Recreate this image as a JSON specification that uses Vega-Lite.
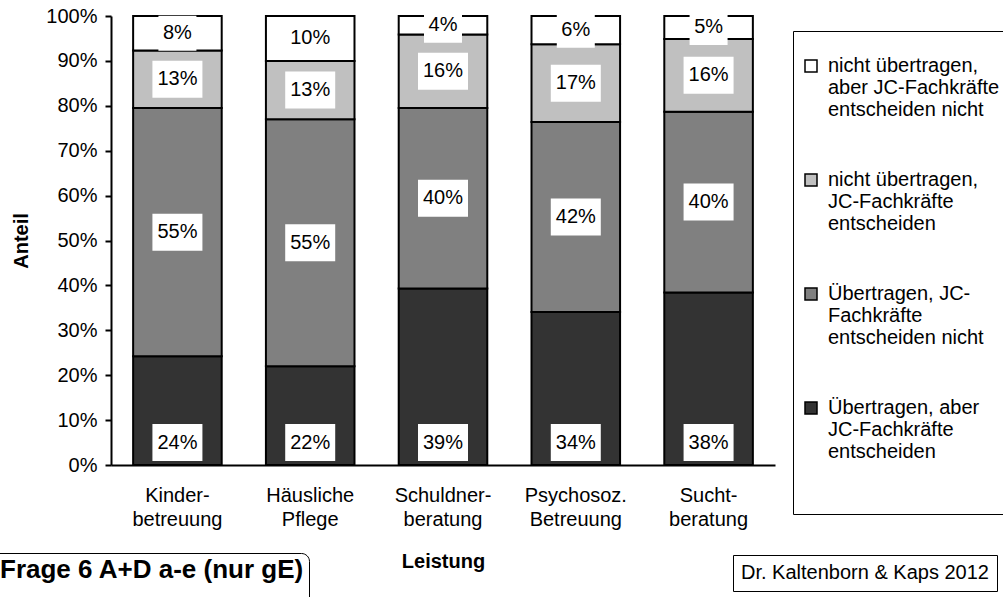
{
  "$schema": "https://vega.github.io/schema/vega-lite/v6.json",
  "width": 664,
  "height": 449,
  "autosize": "none",
  "padding": {"left": 111, "top": 16, "right": 228, "bottom": 132},
  "background": "white",
  "data": {
    "values": [
      {"Leistung": "Kinder-|betreuung", "Kategorie": "Übertragen, aber|JC-Fachkräfte|entscheiden", "rank": 1, "value": 24.2},
      {"Leistung": "Kinder-|betreuung", "Kategorie": "Übertragen, JC-|Fachkräfte|entscheiden nicht", "rank": 2, "value": 55.3},
      {"Leistung": "Kinder-|betreuung", "Kategorie": "nicht übertragen,|JC-Fachkräfte|entscheiden", "rank": 3, "value": 12.8},
      {"Leistung": "Kinder-|betreuung", "Kategorie": "nicht übertragen,|aber JC-Fachkräfte|entscheiden nicht", "rank": 4, "value": 7.7},
      {"Leistung": "Häusliche|Pflege", "Kategorie": "Übertragen, aber|JC-Fachkräfte|entscheiden", "rank": 1, "value": 22.0},
      {"Leistung": "Häusliche|Pflege", "Kategorie": "Übertragen, JC-|Fachkräfte|entscheiden nicht", "rank": 2, "value": 55.0},
      {"Leistung": "Häusliche|Pflege", "Kategorie": "nicht übertragen,|JC-Fachkräfte|entscheiden", "rank": 3, "value": 13.0},
      {"Leistung": "Häusliche|Pflege", "Kategorie": "nicht übertragen,|aber JC-Fachkräfte|entscheiden nicht", "rank": 4, "value": 10.0},
      {"Leistung": "Schuldner-|beratung", "Kategorie": "Übertragen, aber|JC-Fachkräfte|entscheiden", "rank": 1, "value": 39.3},
      {"Leistung": "Schuldner-|beratung", "Kategorie": "Übertragen, JC-|Fachkräfte|entscheiden nicht", "rank": 2, "value": 40.2},
      {"Leistung": "Schuldner-|beratung", "Kategorie": "nicht übertragen,|JC-Fachkräfte|entscheiden", "rank": 3, "value": 16.4},
      {"Leistung": "Schuldner-|beratung", "Kategorie": "nicht übertragen,|aber JC-Fachkräfte|entscheiden nicht", "rank": 4, "value": 4.1},
      {"Leistung": "Psychosoz.|Betreuung", "Kategorie": "Übertragen, aber|JC-Fachkräfte|entscheiden", "rank": 1, "value": 34.1},
      {"Leistung": "Psychosoz.|Betreuung", "Kategorie": "Übertragen, JC-|Fachkräfte|entscheiden nicht", "rank": 2, "value": 42.3},
      {"Leistung": "Psychosoz.|Betreuung", "Kategorie": "nicht übertragen,|JC-Fachkräfte|entscheiden", "rank": 3, "value": 17.3},
      {"Leistung": "Psychosoz.|Betreuung", "Kategorie": "nicht übertragen,|aber JC-Fachkräfte|entscheiden nicht", "rank": 4, "value": 6.3},
      {"Leistung": "Sucht-|beratung", "Kategorie": "Übertragen, aber|JC-Fachkräfte|entscheiden", "rank": 1, "value": 38.4},
      {"Leistung": "Sucht-|beratung", "Kategorie": "Übertragen, JC-|Fachkräfte|entscheiden nicht", "rank": 2, "value": 40.3},
      {"Leistung": "Sucht-|beratung", "Kategorie": "nicht übertragen,|JC-Fachkräfte|entscheiden", "rank": 3, "value": 16.2},
      {"Leistung": "Sucht-|beratung", "Kategorie": "nicht übertragen,|aber JC-Fachkräfte|entscheiden nicht", "rank": 4, "value": 5.1}
    ]
  },
  "transform": [
    {"stack": "value", "groupby": ["Leistung"], "sort": [{"field": "rank", "order": "ascending"}], "as": ["y0", "y1"]},
    {"calculate": "(datum.y0 + datum.y1) / 2", "as": "mid"},
    {"calculate": "format(datum.value, '.0f') + '%'", "as": "lbl"},
    {"calculate": "'Frage 6 A+D a-e (nur gE)\u00a0\u00a0\u00a0'", "as": "f1"},
    {"calculate": "'Dr. Kaltenborn & Kaps 2012'", "as": "f2"}
  ],
  "encoding": {
    "x": {
      "field": "Leistung", "type": "nominal", "sort": null,
      "scale": {"paddingInner": 0.333, "paddingOuter": 0.1667},
      "axis": {
        "title": "Leistung", "ticks": false, "labelAngle": 0,
        "labelExpr": "split(datum.label, '|')", "labelLineHeight": 24,
        "labelPadding": 20, "titlePadding": 22
      }
    }
  },
  "resolve": {"scale": {"opacity": "independent"}, "legend": {"opacity": "independent"}},
  "layer": [
    {
      "mark": {"type": "bar", "stroke": "black", "strokeWidth": 2},
      "encoding": {
        "y": {
          "field": "y1", "type": "quantitative",
          "scale": {"domain": [0, 100], "nice": false},
          "axis": {"title": "Anteil", "values": [0, 10, 20, 30, 40, 50, 60, 70, 80, 90, 100], "labelExpr": "datum.value + '%'", "tickSize": 6, "labelPadding": 8, "titlePadding": 14}
        },
        "y2": {"field": "y0"},
        "fill": {
          "field": "Kategorie", "type": "nominal",
          "scale": {
            "domain": ["nicht übertragen,|aber JC-Fachkräfte|entscheiden nicht", "nicht übertragen,|JC-Fachkräfte|entscheiden", "Übertragen, JC-|Fachkräfte|entscheiden nicht", "Übertragen, aber|JC-Fachkräfte|entscheiden"],
            "range": ["#FFFFFF", "#C0C0C0", "#808080", "#333333"]
          },
          "legend": {
            "orient": "none", "legendX": 682, "legendY": 15,
            "title": " ", "titleFontSize": 8, "titlePadding": 9,
            "labelFont": "Liberation Sans", "labelFontSize": 20, "labelLineHeight": 24, "labelLimit": 400,
            "labelColor": "black",
            "labelExpr": "split(replace(indexof(datum.label, 'aber|JC') >= 0 ? datum.label + '| | ' : datum.label, regexp('[|]', 'g'), '\u00a0\u00a0|'), '|')",
            "symbolType": "square", "symbolSize": 144,
            "symbolStrokeColor": "black", "symbolStrokeWidth": 1.5,
            "labelOffset": 7, "rowPadding": 50, "padding": 8,
            "strokeColor": "black"
          }
        }
      }
    },
    {
      "transform": [{"filter": "datum.rank != 1"}],
      "mark": {"type": "point", "filled": true, "color": "white", "opacity": 1, "strokeWidth": 0},
      "encoding": {
        "y": {"field": "mid", "type": "quantitative", "title": "Anteil"},
        "size": {"value": 2500},
        "shape": {"condition": {"test": "length(datum.lbl) < 3", "value": "M-0.76,-0.7L0.76,-0.7L0.76,0.7L-0.76,0.7Z"}, "value": "M-1,-0.74L1,-0.74L1,0.74L-1,0.74Z"}
      }
    },
    {
      "transform": [{"filter": "datum.rank == 1"}],
      "mark": {"type": "point", "filled": true, "color": "white", "strokeWidth": 0, "yOffset": -22.5},
      "encoding": {
        "y": {"field": "y0", "type": "quantitative", "title": "Anteil"},
        "size": {"value": 2500},
        "shape": {"value": "M-1,-0.74L1,-0.74L1,0.74L-1,0.74Z"},
        "opacity": {
          "field": "f2", "type": "ordinal", "scale": {"range": [1, 1]},
          "legend": {
            "orient": "none", "legendX": 622, "legendY": 539, "title": null,
            "symbolOpacity": 0, "symbolSize": 0, "symbolStrokeWidth": 0,
            "labelFont": "Liberation Sans", "labelFontSize": 20, "labelColor": "black",
            "labelLimit": 600, "labelOffset": -20, "padding": 8,
            "strokeColor": "black"
          }
        }
      }
    },
    {
      "transform": [{"filter": "datum.rank != 1"}],
      "mark": {"type": "text", "fontSize": 20, "font": "Liberation Sans", "color": "black", "baseline": "middle", "align": "center"},
      "encoding": {
        "y": {"field": "mid", "type": "quantitative", "title": "Anteil"},
        "text": {"field": "lbl"},
        "opacity": {
          "field": "f1", "type": "ordinal", "scale": {"range": [1, 1]},
          "legend": {
            "orient": "none", "legendX": -141, "legendY": 537, "title": null,
            "symbolOpacity": 0, "symbolSize": 0, "symbolStrokeWidth": 0,
            "labelFont": "Liberation Sans", "labelFontSize": 26, "labelFontWeight": "bold", "labelColor": "black",
            "labelLineHeight": 30, "labelExpr": "[datum.label, ' ']",
            "labelLimit": 600, "labelOffset": 0, "padding": 4,
            "strokeColor": "black", "cornerRadius": 8
          }
        }
      }
    },
    {
      "transform": [{"filter": "datum.rank == 1"}],
      "mark": {"type": "text", "fontSize": 20, "font": "Liberation Sans", "color": "black", "baseline": "middle", "align": "center", "yOffset": -22.5},
      "encoding": {
        "y": {"field": "y0", "type": "quantitative", "title": "Anteil"},
        "text": {"field": "lbl"}
      }
    }
  ],
  "config": {
    "view": {"stroke": null},
    "font": "Liberation Sans",
    "axis": {
      "labelFont": "Liberation Sans", "labelFontSize": 20, "labelColor": "black",
      "titleFont": "Liberation Sans", "titleFontSize": 20, "titleFontWeight": "bold", "titleColor": "black",
      "domainColor": "black", "domainWidth": 2, "tickColor": "black", "tickWidth": 2, "grid": false
    }
  }
}
